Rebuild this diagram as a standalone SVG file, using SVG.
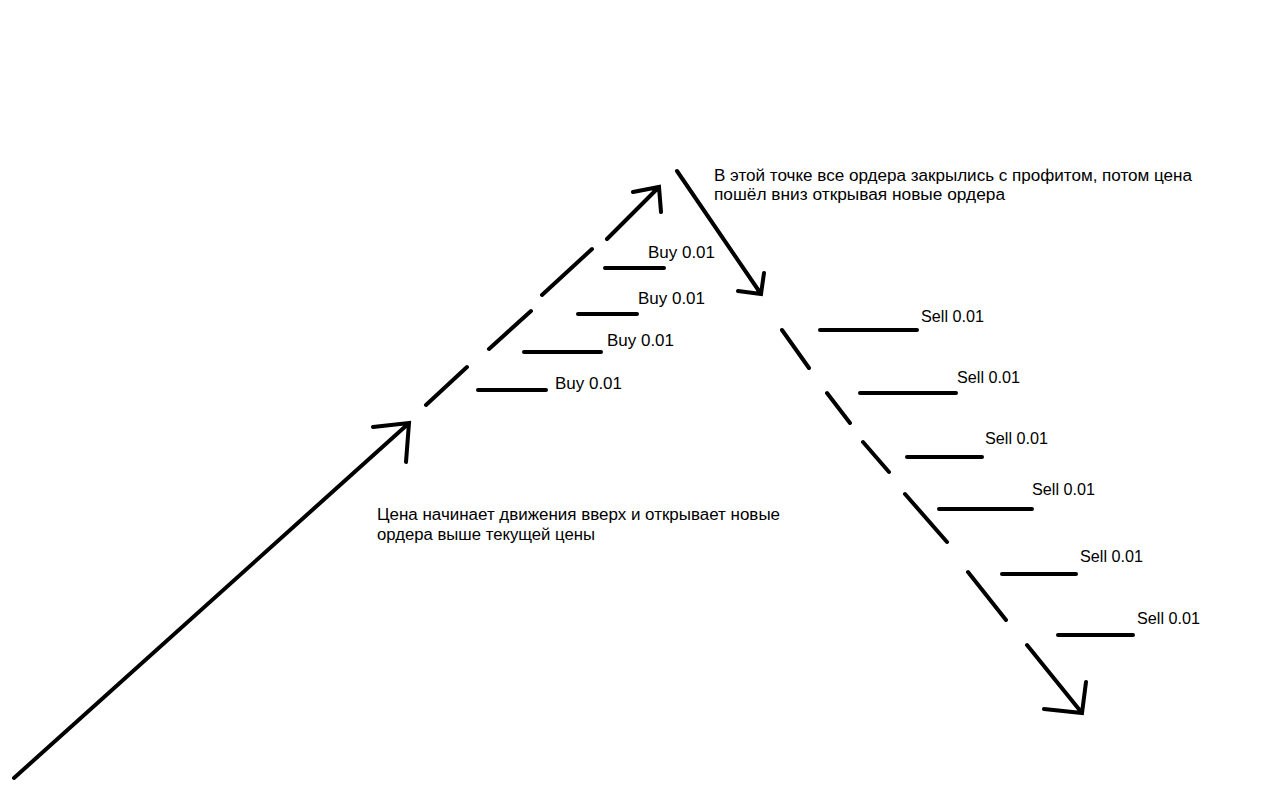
<svg xmlns="http://www.w3.org/2000/svg" width="1263" height="796" viewBox="0 0 1263 796">
<style>
.ln{stroke:#000;stroke-width:4;stroke-linecap:round;fill:none}
.t{font-family:"Liberation Sans",Arial,sans-serif;font-size:16px;fill:#000}
</style>
<rect width="1263" height="796" fill="#fff"/>
<g id="connectors" class="ln">
<path d="M14,778 L408,424 M373,427 L409,423 L406,462"/>
<path d="M426,405 L467,367 M489,349 L531,311 M542,295 L592,249 M607,239 L659,187 M633,192 L659,187 L661,212"/>
<path d="M677,171 L761,294 M738,291 L761,294 L764,273"/>
<path d="M782,330 L809,368 M827,393 L850,423 M863,442 L889,472 M905,494 L947,542 M968,572 L1006,620 M1027,645 L1082,713 M1044,709 L1082,713 L1086,682"/>
</g>
<g id="buy1"><path class="ln" d="M605,268 L664,268"/><text class="t" x="648" y="258" textLength="67" lengthAdjust="spacingAndGlyphs">Buy 0.01</text></g>
<g id="buy2"><path class="ln" d="M578,314 L637,314"/><text class="t" x="638" y="304" textLength="67" lengthAdjust="spacingAndGlyphs">Buy 0.01</text></g>
<g id="buy3"><path class="ln" d="M524,352 L601,352"/><text class="t" x="607" y="346" textLength="67" lengthAdjust="spacingAndGlyphs">Buy 0.01</text></g>
<g id="buy4"><path class="ln" d="M478,390 L546,390"/><text class="t" x="555" y="389" textLength="67" lengthAdjust="spacingAndGlyphs">Buy 0.01</text></g>
<g id="sell1"><path class="ln" d="M820,330 L917,330"/><text class="t" x="921" y="322" textLength="63" lengthAdjust="spacingAndGlyphs">Sell 0.01</text></g>
<g id="sell2"><path class="ln" d="M860,393 L956,393"/><text class="t" x="957" y="383" textLength="63" lengthAdjust="spacingAndGlyphs">Sell 0.01</text></g>
<g id="sell3"><path class="ln" d="M907,457 L982,457"/><text class="t" x="985" y="444" textLength="63" lengthAdjust="spacingAndGlyphs">Sell 0.01</text></g>
<g id="sell4"><path class="ln" d="M939,509 L1032,509"/><text class="t" x="1032" y="495" textLength="63" lengthAdjust="spacingAndGlyphs">Sell 0.01</text></g>
<g id="sell5"><path class="ln" d="M1002,574 L1076,574"/><text class="t" x="1080" y="562" textLength="63" lengthAdjust="spacingAndGlyphs">Sell 0.01</text></g>
<g id="sell6"><path class="ln" d="M1058,635 L1133,635"/><text class="t" x="1137" y="624" textLength="63" lengthAdjust="spacingAndGlyphs">Sell 0.01</text></g>
<g id="note-top">
<text class="t" x="714" y="181" textLength="478" lengthAdjust="spacingAndGlyphs">В этой точке все ордера закрылись с профитом, потом цена</text>
<text class="t" x="714" y="200" textLength="291" lengthAdjust="spacingAndGlyphs">пошёл вниз открывая новые ордера</text>
</g>
<g id="note-bottom">
<text class="t" x="377" y="520" textLength="403" lengthAdjust="spacingAndGlyphs">Цена начинает движения вверх и открывает новые</text>
<text class="t" x="377" y="540" textLength="218" lengthAdjust="spacingAndGlyphs">ордера выше текущей цены</text>
</g>
</svg>
